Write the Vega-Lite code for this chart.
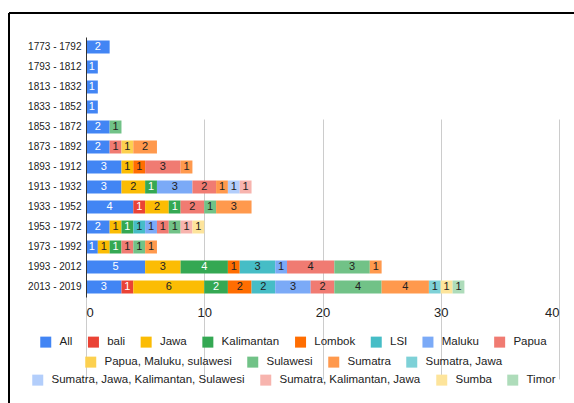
{
  "$schema": "https://vega.github.io/schema/vega-lite/v6.json",
  "autosize": {"type": "none"},
  "padding": {"left": 9, "top": 13, "right": 0, "bottom": 0},
  "width": 565,
  "height": 390,
  "config": {
    "font": "Liberation Sans",
    "view": {"stroke": "#000000", "strokeWidth": 2, "strokeDash": [565, 955, 390, 0]}
  },
  "data": {
    "values": [
      {"period": "1773 - 1792", "region": "All", "count": 2},
      {"period": "1793 - 1812", "region": "All", "count": 1},
      {"period": "1813 - 1832", "region": "All", "count": 1},
      {"period": "1833 - 1852", "region": "All", "count": 1},
      {"period": "1853 - 1872", "region": "All", "count": 2},
      {"period": "1853 - 1872", "region": "Sulawesi", "count": 1},
      {"period": "1873 - 1892", "region": "All", "count": 2},
      {"period": "1873 - 1892", "region": "Papua", "count": 1},
      {"period": "1873 - 1892", "region": "Papua, Maluku, sulawesi", "count": 1},
      {"period": "1873 - 1892", "region": "Sumatra", "count": 2},
      {"period": "1893 - 1912", "region": "All", "count": 3},
      {"period": "1893 - 1912", "region": "Jawa", "count": 1},
      {"period": "1893 - 1912", "region": "Lombok", "count": 1},
      {"period": "1893 - 1912", "region": "Papua", "count": 3},
      {"period": "1893 - 1912", "region": "Sumatra", "count": 1},
      {"period": "1913 - 1932", "region": "All", "count": 3},
      {"period": "1913 - 1932", "region": "Jawa", "count": 2},
      {"period": "1913 - 1932", "region": "Kalimantan", "count": 1},
      {"period": "1913 - 1932", "region": "Maluku", "count": 3},
      {"period": "1913 - 1932", "region": "Papua", "count": 2},
      {"period": "1913 - 1932", "region": "Sumatra", "count": 1},
      {"period": "1913 - 1932", "region": "Sumatra, Jawa, Kalimantan, Sulawesi", "count": 1},
      {"period": "1913 - 1932", "region": "Sumatra, Kalimantan, Jawa", "count": 1},
      {"period": "1933 - 1952", "region": "All", "count": 4},
      {"period": "1933 - 1952", "region": "bali", "count": 1},
      {"period": "1933 - 1952", "region": "Jawa", "count": 2},
      {"period": "1933 - 1952", "region": "Kalimantan", "count": 1},
      {"period": "1933 - 1952", "region": "Papua", "count": 2},
      {"period": "1933 - 1952", "region": "Sulawesi", "count": 1},
      {"period": "1933 - 1952", "region": "Sumatra", "count": 3},
      {"period": "1953 - 1972", "region": "All", "count": 2},
      {"period": "1953 - 1972", "region": "Jawa", "count": 1},
      {"period": "1953 - 1972", "region": "Kalimantan", "count": 1},
      {"period": "1953 - 1972", "region": "LSI", "count": 1},
      {"period": "1953 - 1972", "region": "Maluku", "count": 1},
      {"period": "1953 - 1972", "region": "Papua", "count": 1},
      {"period": "1953 - 1972", "region": "Sulawesi", "count": 1},
      {"period": "1953 - 1972", "region": "Sumatra, Kalimantan, Jawa", "count": 1},
      {"period": "1953 - 1972", "region": "Sumba", "count": 1},
      {"period": "1973 - 1992", "region": "All", "count": 1},
      {"period": "1973 - 1992", "region": "Jawa", "count": 1},
      {"period": "1973 - 1992", "region": "Kalimantan", "count": 1},
      {"period": "1973 - 1992", "region": "Papua", "count": 1},
      {"period": "1973 - 1992", "region": "Sulawesi", "count": 1},
      {"period": "1973 - 1992", "region": "Sumatra", "count": 1},
      {"period": "1993 - 2012", "region": "All", "count": 5},
      {"period": "1993 - 2012", "region": "Jawa", "count": 3},
      {"period": "1993 - 2012", "region": "Kalimantan", "count": 4},
      {"period": "1993 - 2012", "region": "Lombok", "count": 1},
      {"period": "1993 - 2012", "region": "LSI", "count": 3},
      {"period": "1993 - 2012", "region": "Maluku", "count": 1},
      {"period": "1993 - 2012", "region": "Papua", "count": 4},
      {"period": "1993 - 2012", "region": "Sulawesi", "count": 3},
      {"period": "1993 - 2012", "region": "Sumatra", "count": 1},
      {"period": "2013 - 2019", "region": "All", "count": 3},
      {"period": "2013 - 2019", "region": "bali", "count": 1},
      {"period": "2013 - 2019", "region": "Jawa", "count": 6},
      {"period": "2013 - 2019", "region": "Kalimantan", "count": 2},
      {"period": "2013 - 2019", "region": "Lombok", "count": 2},
      {"period": "2013 - 2019", "region": "LSI", "count": 2},
      {"period": "2013 - 2019", "region": "Maluku", "count": 3},
      {"period": "2013 - 2019", "region": "Papua", "count": 2},
      {"period": "2013 - 2019", "region": "Sulawesi", "count": 4},
      {"period": "2013 - 2019", "region": "Sumatra", "count": 4},
      {"period": "2013 - 2019", "region": "Sumatra, Jawa", "count": 1},
      {"period": "2013 - 2019", "region": "Sumba", "count": 1},
      {"period": "2013 - 2019", "region": "Timor", "count": 1}
    ]
  },
  "encoding": {
    "y": {
      "field": "period",
      "type": "nominal",
      "sort": null,
      "scale": {"range": [24, 284], "paddingInner": 0.35, "paddingOuter": 0.175},
      "axis": {
        "title": null,
        "offset": -77,
        "ticks": false,
        "grid": false,
        "domain": true,
        "domainColor": "#333333",
        "domainWidth": 1,
        "labelFontSize": 10,
        "labelColor": "#222222",
        "labelPadding": 5,
        "zindex": 2
      }
    },
    "x": {
      "field": "count",
      "type": "quantitative",
      "stack": "zero",
      "scale": {"domain": [0, 40], "nice": false, "range": [77, 550]},
      "axis": {
        "title": null,
        "offset": -106,
        "domain": false,
        "ticks": false,
        "grid": true,
        "gridColor": "#cccccc",
        "values": [0, 10, 20, 30, 40],
        "format": "d",
        "labelFontSize": 13,
        "labelColor": "#222222",
        "labelPadding": 9
      }
    },
    "order": {"field": "period"}
  },
  "resolve": {"scale": {"color": "independent"}, "legend": {"color": "independent"}},
  "layer": [
    {
      "mark": {"type": "bar"},
      "encoding": {
        "color": {
          "field": "region",
          "type": "nominal",
          "scale": {
            "domain": ["All", "bali", "Jawa", "Kalimantan", "Lombok", "LSI", "Maluku", "Papua", "Papua, Maluku, sulawesi", "Sulawesi", "Sumatra", "Sumatra, Jawa", "Sumatra, Jawa, Kalimantan, Sulawesi", "Sumatra, Kalimantan, Jawa", "Sumba", "Timor"],
            "range": ["#4285F4", "#EA4335", "#FBBC04", "#34A853", "#FF6D01", "#46BDC6", "#7BAAF7", "#F07B72", "#FCD04F", "#71C287", "#FF994D", "#7ED1D7", "#B3CEFB", "#F7B4AE", "#FDE49B", "#AEDCBA"]
          },
          "legend": null
        }
      }
    },
    {
      "mark": {"type": "text", "fontSize": 11, "baseline": "middle", "align": "center"},
      "encoding": {
        "x": {
          "field": "count",
          "type": "quantitative",
          "stack": "zero",
          "bandPosition": 0.5,
          "scale": {"domain": [0, 40], "nice": false, "range": [77, 550]},
          "axis": {
            "title": null,
            "offset": -106,
            "domain": false,
            "ticks": false,
            "grid": true,
            "gridColor": "#cccccc",
            "values": [0, 10, 20, 30, 40],
            "format": "d",
            "labelFontSize": 13,
            "labelColor": "#222222",
            "labelPadding": 9
          }
        },
        "text": {"field": "count", "type": "quantitative"},
        "color": {
          "field": "region",
          "type": "nominal",
          "scale": {
            "domain": ["All", "bali", "Jawa", "Kalimantan", "Lombok", "LSI", "Maluku", "Papua", "Papua, Maluku, sulawesi", "Sulawesi", "Sumatra", "Sumatra, Jawa", "Sumatra, Jawa, Kalimantan, Sulawesi", "Sumatra, Kalimantan, Jawa", "Sumba", "Timor"],
            "range": ["#ffffff", "#ffffff", "#222222", "#ffffff", "#222222", "#222222", "#222222", "#222222", "#222222", "#222222", "#222222", "#222222", "#222222", "#222222", "#222222", "#222222"]
          },
          "legend": null
        }
      }
    },
    {
      "transform": [{"filter": {"field": "region", "oneOf": ["All", "bali", "Jawa", "Kalimantan", "Lombok", "LSI", "Maluku", "Papua"]}}],
      "mark": {"type": "bar", "opacity": 0},
      "encoding": {
        "color": {
          "field": "region",
          "type": "nominal",
          "scale": {
            "domain": ["All", "bali", "Jawa", "Kalimantan", "Lombok", "LSI", "Maluku", "Papua"],
            "range": ["#4285F4", "#EA4335", "#FBBC04", "#34A853", "#FF6D01", "#46BDC6", "#7BAAF7", "#F07B72"]
          },
          "legend": {
            "title": null, "orient": "none", "legendX": 31, "legendY": 323, "direction": "horizontal",
            "symbolType": "square", "symbolSize": 121, "symbolOpacity": 1, "symbolStrokeWidth": 0,
            "labelFontSize": 11.5, "labelColor": "#222222", "labelOffset": 8, "labelLimit": 400,
            "columnPadding": 14.7, "padding": 0
          }
        }
      }
    },
    {
      "transform": [{"filter": {"field": "region", "oneOf": ["Papua, Maluku, sulawesi", "Sulawesi", "Sumatra", "Sumatra, Jawa"]}}],
      "mark": {"type": "bar", "opacity": 0},
      "encoding": {
        "color": {
          "field": "region",
          "type": "nominal",
          "scale": {
            "domain": ["Papua, Maluku, sulawesi", "Sulawesi", "Sumatra", "Sumatra, Jawa"],
            "range": ["#FCD04F", "#71C287", "#FF994D", "#7ED1D7"]
          },
          "legend": {
            "title": null, "orient": "none", "legendX": 76, "legendY": 343, "direction": "horizontal",
            "symbolType": "square", "symbolSize": 121, "symbolOpacity": 1, "symbolStrokeWidth": 0,
            "labelFontSize": 11.5, "labelColor": "#222222", "labelOffset": 8, "labelLimit": 400,
            "columnPadding": 15, "padding": 0
          }
        }
      }
    },
    {
      "transform": [{"filter": {"field": "region", "oneOf": ["Sumatra, Jawa, Kalimantan, Sulawesi", "Sumatra, Kalimantan, Jawa", "Sumba", "Timor"]}}],
      "mark": {"type": "bar", "opacity": 0},
      "encoding": {
        "color": {
          "field": "region",
          "type": "nominal",
          "scale": {
            "domain": ["Sumatra, Jawa, Kalimantan, Sulawesi", "Sumatra, Kalimantan, Jawa", "Sumba", "Timor"],
            "range": ["#B3CEFB", "#F7B4AE", "#FDE49B", "#AEDCBA"]
          },
          "legend": {
            "title": null, "orient": "none", "legendX": 23, "legendY": 361, "direction": "horizontal",
            "symbolType": "square", "symbolSize": 121, "symbolOpacity": 1, "symbolStrokeWidth": 0,
            "labelFontSize": 11.5, "labelColor": "#222222", "labelOffset": 8, "labelLimit": 400,
            "columnPadding": 15, "padding": 0
          }
        }
      }
    }
  ]
}
